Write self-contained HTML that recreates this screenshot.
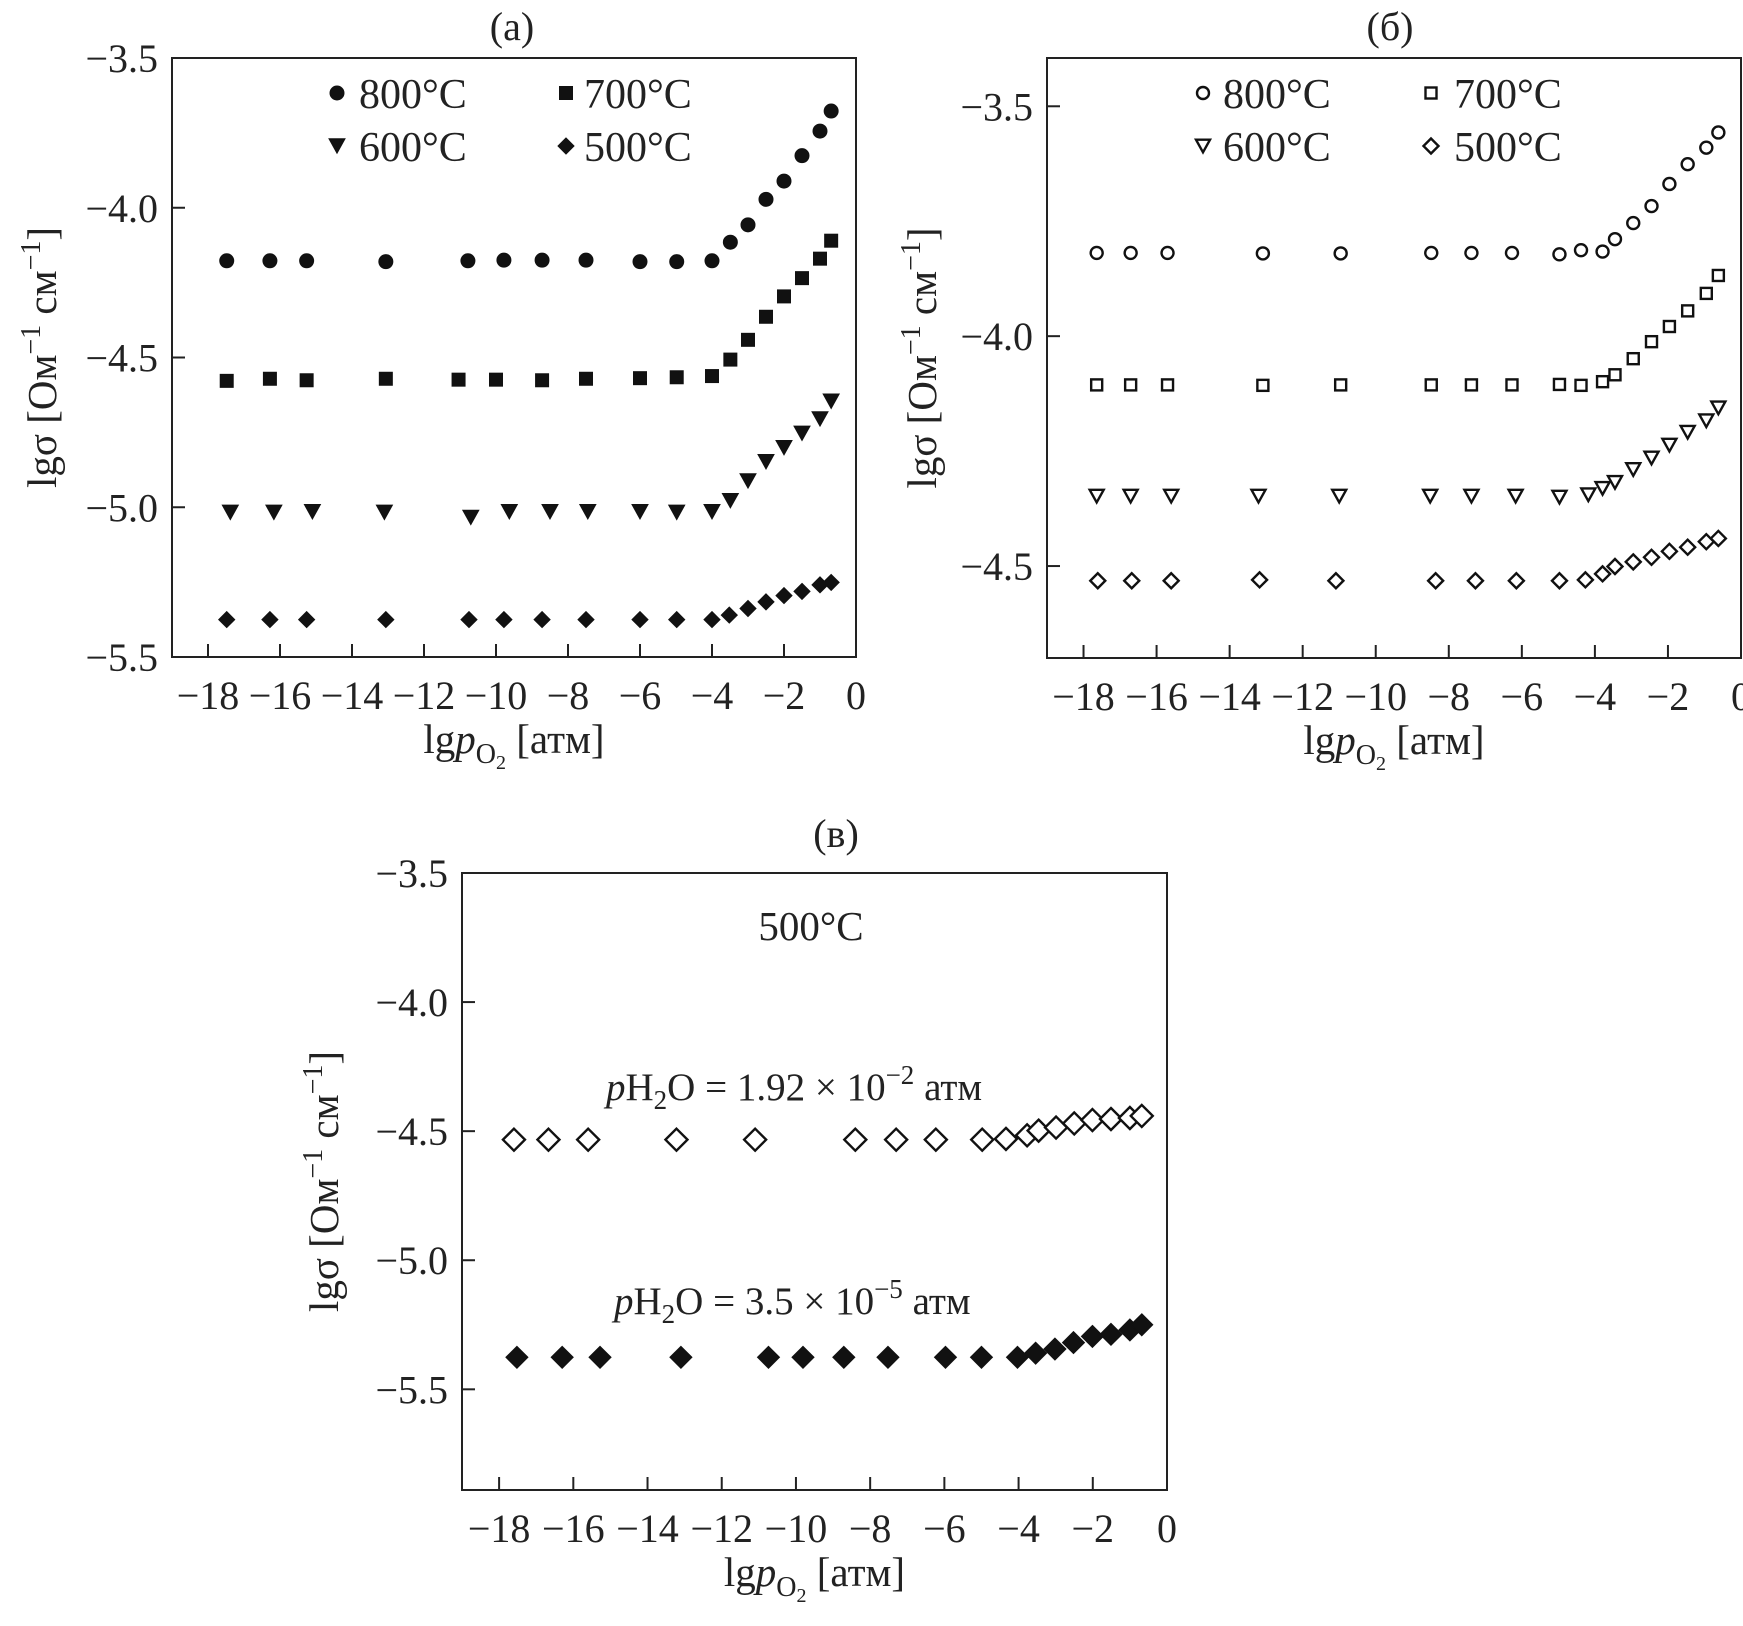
<!DOCTYPE html>
<html><head><meta charset="utf-8"><style>
html,body{margin:0;padding:0;background:#fff;}
svg{display:block;font-family:"Liberation Serif",serif;}
</style></head><body>
<svg id="fig" width="1743" height="1626" viewBox="0 0 1743 1626" xmlns="http://www.w3.org/2000/svg"></svg>
<script>
// ---- data ----
const xA800=[-17.48,-16.28,-15.26,-13.06,-10.78,-9.78,-8.72,-7.5,-6.0,-4.98,-4.0,-3.49,-3.0,-2.5,-2.0,-1.5,-1.0,-0.69];
const yA800=[-4.177,-4.177,-4.177,-4.18,-4.177,-4.175,-4.175,-4.175,-4.18,-4.18,-4.177,-4.115,-4.057,-3.972,-3.911,-3.826,-3.744,-3.677];
const xA700=[-17.48,-16.28,-15.26,-13.06,-11.04,-10.0,-8.72,-7.5,-6.0,-4.98,-4.0,-3.49,-3.0,-2.5,-2.0,-1.5,-1.0,-0.69];
const yA700=[-4.578,-4.571,-4.576,-4.571,-4.574,-4.574,-4.576,-4.571,-4.569,-4.566,-4.562,-4.507,-4.441,-4.364,-4.296,-4.235,-4.170,-4.110];
const xA600=[-17.38,-16.17,-15.1,-13.1,-10.7,-9.63,-8.5,-7.45,-6.0,-4.98,-4.0,-3.49,-3.0,-2.5,-2.0,-1.5,-1.0,-0.69];
const yA600=[-5.017,-5.017,-5.015,-5.017,-5.034,-5.015,-5.015,-5.015,-5.015,-5.017,-5.015,-4.978,-4.912,-4.848,-4.801,-4.753,-4.705,-4.646];
const xA500=[-17.48,-16.28,-15.26,-13.06,-10.75,-9.78,-8.72,-7.5,-6.0,-4.98,-4.0,-3.52,-3.0,-2.5,-2.0,-1.5,-1.0,-0.69];
const yA500=[-5.375,-5.375,-5.375,-5.375,-5.375,-5.375,-5.375,-5.375,-5.375,-5.375,-5.375,-5.36,-5.338,-5.316,-5.295,-5.281,-5.259,-5.251];

const xB800=[-17.64,-16.71,-15.7,-13.09,-10.96,-8.48,-7.38,-6.27,-4.97,-4.38,-3.79,-3.45,-2.95,-2.45,-1.96,-1.46,-0.95,-0.62];
const yB800=[-3.819,-3.819,-3.819,-3.82,-3.82,-3.819,-3.819,-3.819,-3.822,-3.813,-3.816,-3.789,-3.754,-3.717,-3.669,-3.626,-3.590,-3.557];
const xB700=[-17.64,-16.71,-15.7,-13.09,-10.96,-8.48,-7.38,-6.27,-4.97,-4.38,-3.79,-3.45,-2.95,-2.45,-1.96,-1.46,-0.95,-0.62];
const yB700=[-4.106,-4.106,-4.106,-4.107,-4.106,-4.106,-4.106,-4.106,-4.105,-4.107,-4.099,-4.084,-4.049,-4.012,-3.979,-3.945,-3.907,-3.868];
const xB600=[-17.64,-16.71,-15.6,-13.21,-11.0,-8.51,-7.38,-6.17,-4.97,-4.18,-3.79,-3.45,-2.95,-2.45,-1.96,-1.46,-0.95,-0.62];
const yB600=[-4.348,-4.348,-4.348,-4.348,-4.348,-4.348,-4.348,-4.348,-4.35,-4.345,-4.331,-4.318,-4.290,-4.265,-4.237,-4.209,-4.184,-4.156];
const xB500=[-17.61,-16.68,-15.6,-13.18,-11.09,-8.36,-7.27,-6.15,-4.97,-4.26,-3.79,-3.45,-2.95,-2.45,-1.96,-1.46,-0.95,-0.62];
const yB500=[-4.532,-4.532,-4.532,-4.53,-4.532,-4.532,-4.532,-4.532,-4.532,-4.53,-4.517,-4.501,-4.491,-4.481,-4.468,-4.459,-4.447,-4.440];

const xCwet=[-17.6,-16.67,-15.6,-13.22,-11.1,-8.4,-7.3,-6.23,-4.98,-4.34,-3.77,-3.46,-2.99,-2.5,-2.01,-1.51,-1.0,-0.68];
const yCwet=[-4.533,-4.533,-4.533,-4.533,-4.533,-4.533,-4.533,-4.533,-4.533,-4.53,-4.516,-4.498,-4.486,-4.470,-4.457,-4.453,-4.449,-4.441];
const xCdry=[-17.52,-16.3,-15.28,-13.1,-10.74,-9.81,-8.71,-7.52,-5.97,-5.0,-4.03,-3.54,-3.02,-2.52,-2.01,-1.51,-1.0,-0.68];
const yCdry=[-5.376,-5.376,-5.376,-5.376,-5.376,-5.376,-5.376,-5.376,-5.376,-5.376,-5.376,-5.36,-5.344,-5.319,-5.295,-5.287,-5.270,-5.250];

const xTicks=[-18,-16,-14,-12,-10,-8,-6,-4,-2,0];
const xTickLabels=["\u221218","\u221216","\u221214","\u221212","\u221210","\u22128","\u22126","\u22124","\u22122","0"];
const yTicksA=[-3.5,-4.0,-4.5,-5.0,-5.5];
const yTickLabelsA=["\u22123.5","\u22124.0","\u22124.5","\u22125.0","\u22125.5"];
const yTicksB=[-3.5,-4.0,-4.5];
const yTickLabelsB=["\u22123.5","\u22124.0","\u22124.5"];

const NS="http://www.w3.org/2000/svg";
const svg=document.getElementById('fig');
function mk(tag,attrs,parent){const e=document.createElementNS(NS,tag);for(const k in attrs)e.setAttribute(k,attrs[k]);(parent||svg).appendChild(e);return e;}

function marker(g,shape,filled,cx,cy,s){
  const fill=filled?'#111':'#fff', st='#111', sw=filled?1:2.4;
  let e;
  if(shape==='circle') e=mk('circle',{cx:cx,cy:cy,r:s/2,fill:fill,stroke:st,'stroke-width':sw},g);
  else if(shape==='square') e=mk('rect',{x:cx-s/2,y:cy-s/2,width:s,height:s,fill:fill,stroke:st,'stroke-width':sw},g);
  else if(shape==='tri'){const h=s*0.9;e=mk('polygon',{points:`${cx-s/2},${cy-h/2} ${cx+s/2},${cy-h/2} ${cx},${cy+h/2}`,fill:fill,stroke:st,'stroke-width':sw},g);}
  else {const r=s/2;e=mk('polygon',{points:`${cx},${cy-r} ${cx+r},${cy} ${cx},${cy+r} ${cx-r},${cy}`,fill:fill,stroke:st,'stroke-width':sw},g);}
  return e;
}

function panel(o){
  const g=mk('g',{});
  
  
  const X=v=>o.L+(v-o.xmin)/(o.xmax-o.xmin)*(o.R-o.L);
  const Y=v=>o.T+(o.ymax-v)/(o.ymax-o.ymin)*(o.B-o.T);
  const box=mk('rect',{x:o.L,y:o.T,width:o.R-o.L,height:o.B-o.T,fill:'none',stroke:'#222','stroke-width':2},g);
  
  
  xTicks.forEach((t,i)=>{
    const x=X(t);
    if(t<0) mk('line',{x1:x,y1:o.B,x2:x,y2:o.B-13,stroke:'#222','stroke-width':2},g);
    const tx=mk('text',{x:x,y:o.B+52,'font-size':40,'text-anchor':'middle',fill:'#222'},g);
    tx.textContent=xTickLabels[i];
    
    
  });
  o.yt.forEach((t,i)=>{
    const y=Y(t);
    mk('line',{x1:o.L,y1:y,x2:o.L+13,y2:y,stroke:'#222','stroke-width':2},g);
    const tx=mk('text',{x:o.L-14,y:y+14,'font-size':40,'text-anchor':'end',fill:'#222'},g);
    tx.textContent=o.ytl[i];
    
    
  });
  o.series.forEach(s=>{
    const sg=mk('g',{},g);
    
    
    s.x.forEach((v,i)=>{
      const m=marker(sg,s.shape,s.filled,X(v),Y(s.y[i]),s.size);
      
      
    });
  });
  const ti=mk('text',{x:o.titleX,y:o.titleY,'font-size':40,'text-anchor':'middle',fill:'#222'},g);
  ti.textContent=o.title;
  
  
  const xt=mk('text',{x:(o.L+o.R)/2,y:o.B+96,'font-size':41,'text-anchor':'middle',fill:'#222'},g);
  
  
  xt.innerHTML='lg<tspan font-style="italic">p</tspan><tspan font-size="28" dy="10">O</tspan><tspan font-size="20" dy="6">2</tspan><tspan dy="-16"> [атм]</tspan>';
  const yx=o.yTitleX, yy=(o.T+o.B)/2;
  const yt=mk('text',{x:yx,y:yy,'font-size':41,'text-anchor':'middle',fill:'#222',transform:`rotate(-90 ${yx} ${yy})`},g);
  
  
  yt.innerHTML='lgσ [Ом<tspan font-size="28" dy="-16">−1</tspan><tspan dy="16"> см</tspan><tspan font-size="28" dy="-16">−1</tspan><tspan dy="16">]</tspan>';
  return g;
}

const gA=panel({name:'panel-a',L:172,R:856,T:58,B:657,xmin:-19,xmax:0,ymin:-5.5,ymax:-3.5,yt:yTicksA,ytl:yTickLabelsA,
  title:'(a)',titleX:512,titleY:40,yTitleX:56,
  series:[
   {name:'series-a-800C',x:xA800,y:yA800,shape:'circle',filled:true,size:14},
   {name:'series-a-700C',x:xA700,y:yA700,shape:'square',filled:true,size:13},
   {name:'series-a-600C',x:xA600,y:yA600,shape:'tri',filled:true,size:16},
   {name:'series-a-500C',x:xA500,y:yA500,shape:'diamond',filled:true,size:16}]});
const gB=panel({name:'panel-b',L:1047,R:1741,T:58,B:658,xmin:-19,xmax:0,ymin:-4.7,ymax:-3.395,yt:yTicksB,ytl:yTickLabelsB,
  title:'(б)',titleX:1390,titleY:40,yTitleX:936,
  series:[
   {name:'series-b-800C',x:xB800,y:yB800,shape:'circle',filled:false,size:12},
   {name:'series-b-700C',x:xB700,y:yB700,shape:'square',filled:false,size:11},
   {name:'series-b-600C',x:xB600,y:yB600,shape:'tri',filled:false,size:14},
   {name:'series-b-500C',x:xB500,y:yB500,shape:'diamond',filled:false,size:15}]});
const gC=panel({name:'panel-c',L:462,R:1167,T:873,B:1490,xmin:-19,xmax:0,ymin:-5.89,ymax:-3.5,yt:yTicksA,ytl:yTickLabelsA,
  title:'(в)',titleX:836,titleY:847,yTitleX:338,
  series:[
   {name:'series-c-wet',x:xCwet,y:yCwet,shape:'diamond',filled:false,size:22},
   {name:'series-c-dry',x:xCdry,y:yCdry,shape:'diamond',filled:true,size:22}]});

function legend(g,items){
  items.forEach(it=>{
    const lg=mk('g',{},g);
    
    
    marker(lg,it.shape,it.filled,it.mx,it.my,it.s);
    const t=mk('text',{x:it.tx,y:it.my+15,'font-size':42,fill:'#222'},lg);
    t.textContent=it.label;
  });
}
legend(gA,[
 {shape:'circle',filled:true,mx:337,my:93,s:14,tx:359,label:'800°C'},
 {shape:'square',filled:true,mx:566,my:93,s:13,tx:584,label:'700°C'},
 {shape:'tri',filled:true,mx:337,my:146,s:16,tx:359,label:'600°C'},
 {shape:'diamond',filled:true,mx:566,my:146,s:16,tx:584,label:'500°C'}]);
legend(gB,[
 {shape:'circle',filled:false,mx:1203,my:93,s:12,tx:1223,label:'800°C'},
 {shape:'square',filled:false,mx:1431,my:93,s:11,tx:1454,label:'700°C'},
 {shape:'tri',filled:false,mx:1203,my:146,s:14,tx:1223,label:'600°C'},
 {shape:'diamond',filled:false,mx:1431,my:146,s:15,tx:1454,label:'500°C'}]);

const ann1=mk('text',{x:811,y:940,'font-size':41,'text-anchor':'middle',fill:'#222'},gC);
ann1.textContent='500°C';


const ann2=mk('text',{x:606,y:1100,'font-size':39,fill:'#222'},gC);


ann2.innerHTML='<tspan font-style="italic">p</tspan>H<tspan font-size="27" dy="9">2</tspan><tspan dy="-9">O = 1.92 × 10</tspan><tspan font-size="27" dy="-16">−2</tspan><tspan dy="16"> атм</tspan>';
const ann3=mk('text',{x:614,y:1314,'font-size':39,fill:'#222'},gC);


ann3.innerHTML='<tspan font-style="italic">p</tspan>H<tspan font-size="27" dy="9">2</tspan><tspan dy="-9">O = 3.5 × 10</tspan><tspan font-size="27" dy="-16">−5</tspan><tspan dy="16"> атм</tspan>';
</script>
</body></html>
